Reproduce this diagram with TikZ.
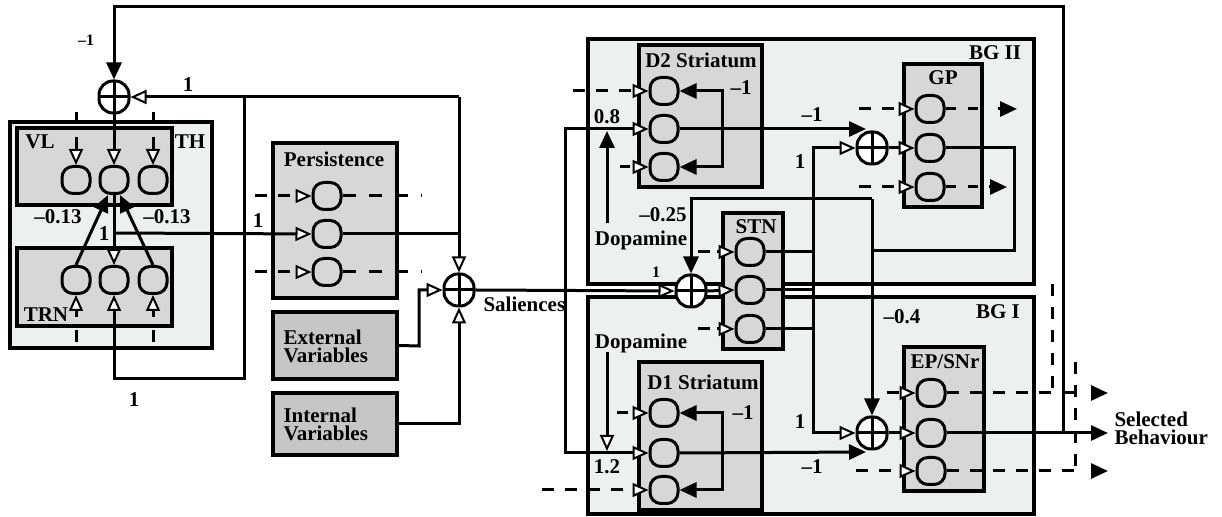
\documentclass[tikz,border=0pt]{standalone}
\usepackage{fontspec}
\setmainfont{Liberation Serif}
\usetikzlibrary{arrows.meta,fit}
\definecolor{bgfill}{HTML}{EDF1EE}
\definecolor{boxfill}{HTML}{D7D7D7}
\definecolor{varfill}{HTML}{C6C6C6}
\begin{document}
\begin{tikzpicture}[x=0.5pt,y=-0.5pt,line width=1.5pt,
  font=\fontsize{10.5}{11}\selectfont\bfseries,
  outer/.style={draw,line width=1.8pt,fill=bgfill,inner sep=0pt},
  inner/.style={draw,line width=1.8pt,fill=boxfill,inner sep=0pt},
  varbox/.style={draw,line width=1.8pt,fill=varfill,inner sep=0pt},
  neuron/.style={draw,line width=1.5pt,rounded corners=5.5pt,minimum width=14pt,minimum height=13.5pt,fill=boxfill,inner sep=0pt},
  sumnode/.style={draw,line width=1.5pt,rounded corners=7pt,minimum width=15pt,minimum height=16pt,fill=white,inner sep=0pt,
    path picture={\draw[line width=1.5pt] (path picture bounding box.north)--(path picture bounding box.south);
                  \draw[line width=1.5pt] (path picture bounding box.west)--(path picture bounding box.east);}},
  wa/.style={-{Triangle[fill=white,line width=1pt,length=8pt,width=7pt]}},
  ba/.style={-{Triangle[length=8.5pt,width=7.5pt]}},
  dsh/.style={dash pattern=on 6pt off 5.5pt},
  lab/.style={inner sep=0pt},
  small/.style={font=\fontsize{8}{9}\selectfont\bfseries,inner sep=0pt}]
\useasboundingbox (0,0) rectangle (1222,517);

% ---------- outer boxes ----------
\node[outer,fit={(588,39)(1034,284)}] (bg2) {};
\node[outer,fit={(588,297)(1034,514)}] (bg1) {};
\node[outer,fit={(10,122)(212,348)}] (th) {};

% ---------- inner boxes ----------
\node[inner,fit={(17,128)(172,205)}] (vl) {};
\node[inner,fit={(17,248)(172,326)}] (trn) {};
\node[inner,fit={(273,143)(397,298)}] (pers) {};
\node[varbox,fit={(273,312)(397,379)}] (ext) {};
\node[varbox,fit={(273,393)(397,455)}] (int) {};
\node[inner,fit={(639,45)(762,187)}] (d2) {};
\node[inner,fit={(639,362)(762,510)}] (d1) {};
\node[inner,fit={(904,64)(982,207)}] (gp) {};
\node[inner,fit={(904,347)(984,491)}] (ep) {};

% ---------- box labels ----------
\node[lab] at (40,142) {VL};
\node[lab] at (190,142) {TH};
\node[lab] at (46,315) {TRN};
\node[lab] at (334,159) {Persistence};
\node[lab,anchor=west,align=left] at (282,346) {External\\[-2pt]Variables};
\node[lab,anchor=west,align=left] at (282,424) {Internal\\[-2pt]Variables};
\node[lab] at (701,60) {D2 Striatum};
\node[lab] at (703,382) {D1 Striatum};
\node[lab] at (943,78) {GP};
\node[lab] at (945,362) {EP/SNr};
\node[lab] at (995,53) {BG II};
\node[lab] at (998,312) {BG I};
\node[lab,anchor=west] at (482,304) {Saliences};
\node[lab,anchor=west,align=left] at (1113,428) {Selected\\[-2pt]Behaviour};

% ---------- sums ----------
\node[sumnode] (thsum) at (114,97) {};
\node[sumnode] (sals) at (459,290) {};
\node[sumnode] (gpsum) at (872,148) {};
\node[sumnode] (epsum) at (872,433) {};

% ---------- coordinates ----------
\coordinate (fbA) at (1063,433);
\coordinate (j1) at (459,97);
\coordinate (j2) at (244,97);
\coordinate (j3) at (114,233);
\coordinate (j4) at (565,290);
\coordinate (gpj) at (872,199);
\coordinate (stj) at (813,290);

% ---------- neurons ----------
\foreach \n/\x/\y in {vl1/76/180,vl2/114/180,vl3/153/180,tr1/76/280,tr2/114/280,tr3/153/280,
  p1/327/196,p2/327/234,p3/327/272,d2a/664/91,d2b/664/129,d2c/664/167,
  d1a/664/413,d1b/664/453,d1c/664/490,gp1/930/109,gp2/930/148,gp3/930/187,
  ep1/931/393,ep2/931/433,ep3/931/471}
  \node[neuron] (\n) at (\x,\y) {};

% ---------- thalamus ----------
\draw[ba] (fbA) -- (1063,7) -- (114,7) -- (thsum.north);
\node[small] at (86,40) {–1};
\draw[wa] (j1) -- (thsum.east);
\node[lab] at (188,85) {1};
\draw[wa] (thsum.south) -- (vl2.north);
\draw (76,112) -- (76,124);
\draw[wa] (76,137) -- (vl1.north);
\draw (153,112) -- (153,124);
\draw[wa] (153,137) -- (vl3.north);
\draw[ba] (tr1.north) -- ([xshift=-3pt]vl2.south);
\draw[ba] (tr3.north) -- ([xshift=3pt]vl2.south);
\node[lab] at (58,217) {–0.13};
\node[lab] at (167,217) {–0.13};
\draw[wa] (vl2.south) -- (tr2.north);
\node[lab] at (104,234) {1};
\draw[wa] (j2) -- (244,379) -- (114,379) -- (tr2.south);
\draw[wa] (76,317) -- (tr1.south);
\draw (76,330) -- (76,342);
\draw[wa] (153,317) -- (tr3.south);
\draw (153,330) -- (153,342);
\node[lab] at (134,400) {1};

% ---------- persistence ----------
\draw[wa] (j3) -- (p2.west);
\node[lab] at (258,221) {1};
\draw[dsh,wa] (255,196) -- (p1.west);
\draw[dsh,wa] (255,272) -- (p3.west);
\draw[dash pattern=on 6.5pt off 6.5pt] (p1.east) -- (421,196);
\draw[dash pattern=on 6.5pt off 6.5pt] (p3.east) -- (421,272);
\draw (p2.east) -- (459,234);
\draw[wa] (j1) -- (sals.north);

% ---------- variables ----------
\draw[wa] (ext.east) -- (419,346) |- (sals.west);
\draw[wa] (int.east) -| (sals.south);

% ---------- salience distribution ----------
\node[sumnode] (stsum) at (691,291) {};
\draw[wa] (sals.east) -- (stsum.west);
\node[small] at (656,272) {1};
\draw[wa] (j4) -- (565,129) -- (d2b.west);
\draw[wa] (j4) -- (565,453) -- (d1b.west);

% ---------- D2 ----------
\draw[dsh,wa] (573,91) -- (d2a.west);
\draw (620,167) -- (630,167);
\draw[wa] (636,167) -- (d2c.west);
\draw[ba] (722,129) -- (722,91) -- (d2a.east);
\draw[ba] (722,129) -- (722,167) -- (d2c.east);
\node[lab] at (741,88) {–1};
\node[lab] at (607,117) {0.8};
\draw[ba] (607,223) -- (607,131);
\node[lab] at (641,240) {Dopamine};
\node[lab] at (663,215) {–0.25};
\coordinate (gpin) at (866,129);
\draw[ba] (d2b.east) -- (gpin);
\node[lab] at (812,115) {–1};

% ---------- D1 ----------
\node[lab] at (641,343) {Dopamine};
\draw[wa] (607,352) -- (607,451);
\node[lab] at (607,467) {1.2};
\draw (617,413) -- (628,413);
\draw[wa] (636,413) -- (d1a.west);
\draw[dsh,wa] (542,490) -- (d1c.west);
\draw[ba] (722,453) -- (722,413) -- (d1a.east);
\draw[ba] (722,453) -- (722,490) -- (d1c.east);
\node[lab] at (743,413) {–1};
\coordinate (epin) at (866,452);
\draw[ba] (d1b.east) -- (epin);
\node[lab] at (812,467) {–1};

% ---------- STN ----------
\node[inner,fit={(723,213)(783,349)}] (stn) {};
\node[lab] at (756,227) {STN};
\node[neuron] (st1) at (750,252) {};
\node[neuron] (st2) at (750,290) {};
\node[neuron] (st3) at (750,329) {};
\draw (698,252) -- (710,252);
\draw[wa] (717,252) -- (st1.west);
\draw (698,329) -- (710,329);
\draw[wa] (717,329) -- (st3.west);
\draw[wa] (stsum.east) -- (st2.west);
\draw (st1.east) -- (813,252);
\draw (st2.east) -- (stj);
\draw (st3.east) -- (813,329);
\draw[wa] (stj) -- (813,148) -- (gpsum.west);
\draw[wa] (stj) -- (813,433) -- (epsum.west);
\node[lab] at (800,162) {1};
\node[lab] at (800,422) {1};

% ---------- GP ----------
\draw[wa] (gpsum.east) -- (gp2.west);
\draw[dsh,wa] (859,109) -- (gp1.west);
\draw[dsh,wa] (859,187) -- (gp3.west);
\draw[dash pattern=on 5pt off 6pt] (gp1.east) -- (981,109);
\draw[ba] (998,109) -- (1017,109);
\draw[dash pattern=on 5pt off 6pt] (gp3.east) -- (981,187);
\draw[ba] (989,187) -- (1007,187);
\draw (gp2.east) -- (1014,148) -- (1014,251) -- (872,251);
\draw[ba] (gpj) -| (stsum.north);
\draw[ba] (gpj) -- (epsum.north);
\node[lab] at (902,317) {–0.4};

% ---------- EP/SNr ----------
\draw[wa] (epsum.east) -- (ep2.west);
\draw[dsh,wa] (887,393) -- (ep1.west);
\draw[dsh,wa] (856,471) -- (ep3.west);
\coordinate (selout) at (1108,433);
\draw[ba] (ep2.east) -- (selout);
\draw[dsh] (ep1.east) -- (1080,393);
\draw[ba] (1092,393) -- (1108,393);
\draw[dsh] (ep3.east) -- (1075,471);
\draw[ba] (1092,471) -- (1108,471);
\draw[dsh] (1052,284) -- (1052,393);
\draw[dsh] (1075,362) -- (1075,471);
\end{tikzpicture}
\end{document}
